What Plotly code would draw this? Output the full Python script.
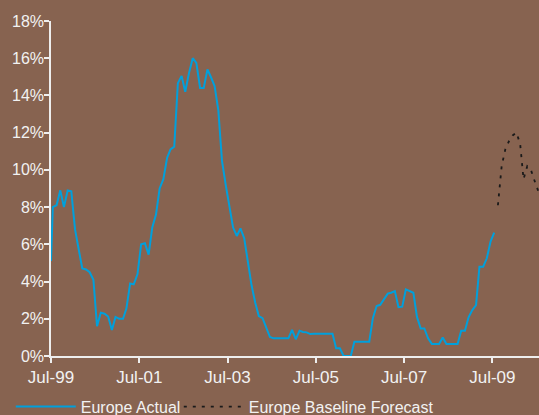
import pandas as pd
import plotly.graph_objects as go

# Europe actual rate, % (first reading at 1 Jul 1999, then monthly mid-month readings Jul-99 .. Jul-09)
actual_start_date = "1999-07-01"
actual_start_value = 5.1
actual_values = [
    8.0, 8.1, 8.9, 8.0, 8.9, 8.85, 6.8, 5.7, 4.7, 4.65, 4.5, 4.1,
    1.6, 2.33, 2.27, 2.12, 1.4, 2.1, 2.0, 2.0, 2.55, 3.9, 3.85, 4.4,
    6.0, 6.06, 5.45, 6.9, 7.6, 9.0, 9.5, 10.65, 11.1, 11.25, 14.66, 15.05,
    14.2, 15.2, 16.0, 15.75, 14.4, 14.4, 15.4, 14.95, 14.5, 13.2, 10.5, 9.2,
    8.0, 6.9, 6.45, 6.86, 6.33, 5.0, 3.8, 2.85, 2.15, 2.03, 1.49, 1.02,
    0.95, 0.95, 0.95, 0.95, 0.95, 1.4, 0.9, 1.36, 1.29, 1.27, 1.18, 1.2,
    1.2, 1.2, 1.2, 1.2, 1.2, 0.41, 0.41, 0.0, 0.0, 0.0, 0.77, 0.77,
    0.77, 0.77, 0.77, 2.03, 2.69, 2.75, 3.05, 3.35, 3.4, 3.49, 2.62, 2.65,
    3.58, 3.51, 3.4, 2.1, 1.48, 1.48, 0.95, 0.65, 0.65, 0.65, 1.0, 0.65,
    0.65, 0.65, 0.65, 1.36, 1.36, 2.08, 2.47, 2.74, 4.8, 4.8, 5.25, 6.15,
    6.63,
]

# Europe baseline forecast, %, monthly from Aug-09
forecast_values = [8.1, 10.2, 11.1, 11.55, 11.85, 12.0, 11.4, 9.5, 10.2, 10.0, 9.4, 8.8, 8.3]

tick_dates = ["1999-07-01", "2001-07-01", "2003-07-01", "2005-07-01", "2007-07-01", "2009-07-01"]
tick_labels = ["Jul-99", "Jul-01", "Jul-03", "Jul-05", "Jul-07", "Jul-09"]
y_ticks = [0, 2, 4, 6, 8, 10, 12, 14, 16, 18]
y_tick_labels = ["0%", "2%", "4%", "6%", "8%", "10%", "12%", "14%", "16%", "18%"]

mid_month = pd.Timedelta(days=15)
actual_dates = [pd.Timestamp(actual_start_date)] + list(
    pd.date_range("1999-07-01", periods=len(actual_values), freq="MS") + mid_month
)
forecast_dates = list(
    pd.date_range("2009-08-01", periods=len(forecast_values), freq="MS") + mid_month
)

BG = "#876350"
TEXT = "#F2F2F2"
AXIS = "#EEEEEE"
FONT = "Liberation Sans, Arial, sans-serif"

fig = go.Figure()
fig.add_trace(go.Scatter(
    x=actual_dates, y=[actual_start_value] + actual_values,
    mode="lines", name="Europe Actual",
    line=dict(color="#00A0DC", width=2),
    cliponaxis=False,
    legend="legend",
))
fig.add_trace(go.Scatter(
    x=forecast_dates, y=forecast_values,
    mode="lines", name="Europe Baseline Forecast",
    line=dict(color="#1A1A1A", width=1.8, dash="3px,6px"),
    legend="legend2",
))

legend_style = dict(
    orientation="h",
    xref="container", yref="container",
    y=0.02, xanchor="left", yanchor="middle",
    itemwidth=60,
    font=dict(family=FONT, size=16, color=TEXT),
    bgcolor="rgba(0,0,0,0)",
)

fig.update_layout(
    width=539, height=415,
    margin=dict(l=51, r=0, t=21, b=59),
    paper_bgcolor=BG, plot_bgcolor=BG,
    font=dict(family=FONT, size=16, color=TEXT),
    showlegend=True,
    legend=dict(x=0.02, **legend_style),
    legend2=dict(x=0.3317, **legend_style),
    xaxis=dict(
        type="date",
        range=["1999-07-01", "2010-07-22"],
        tickmode="array", tickvals=tick_dates, ticktext=tick_labels,
        ticks="outside", ticklen=5, tickwidth=1.5, tickcolor=AXIS,
        showline=True, linecolor=AXIS, linewidth=1.5,
        showgrid=False, zeroline=False,
        tickfont=dict(family=FONT, size=17, color=TEXT),
    ),
    yaxis=dict(
        range=[0, 18],
        tickmode="array", tickvals=y_ticks, ticktext=y_tick_labels,
        ticks="outside", ticklen=5, tickwidth=1.5, tickcolor=AXIS,
        ticklabelstandoff=-3,
        showline=True, linecolor=AXIS, linewidth=1.5,
        showgrid=False, zeroline=False,
        tickfont=dict(family=FONT, size=16, color=TEXT),
    ),
)

fig.write_html("out.html")
